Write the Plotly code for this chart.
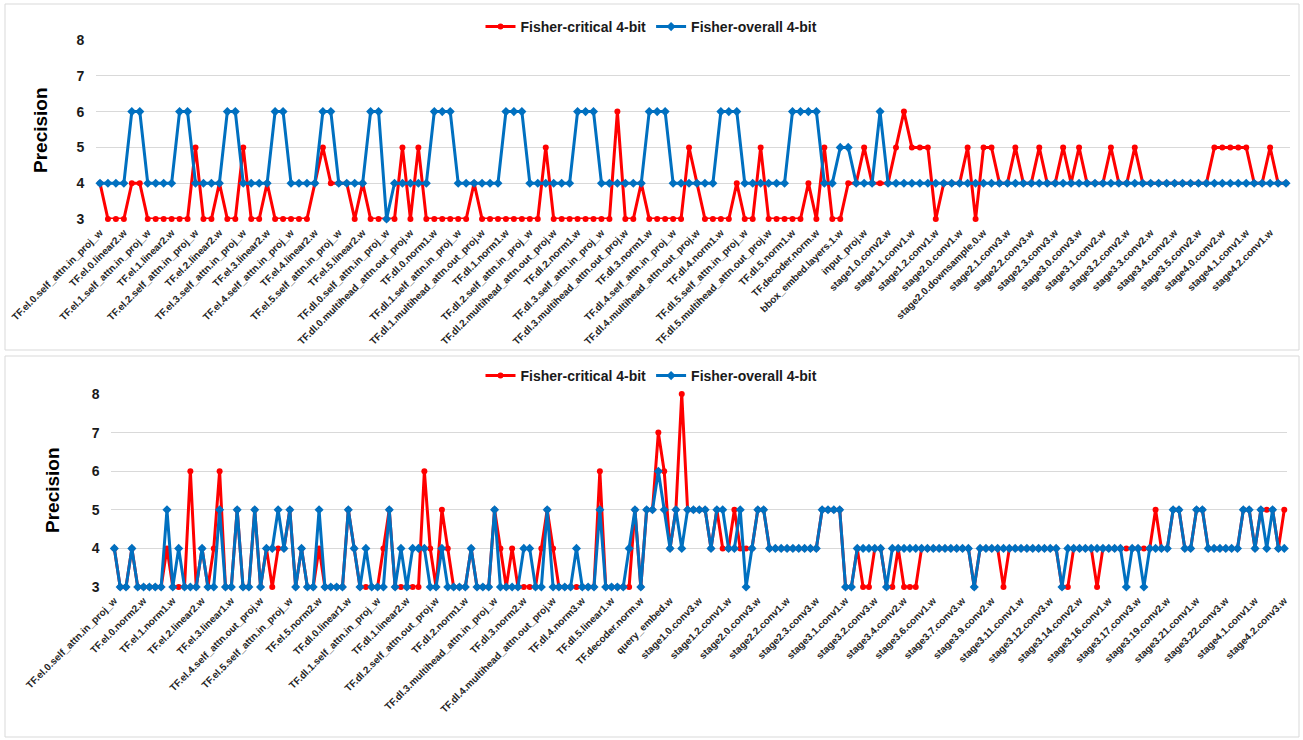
import plotly.graph_objects as go

# ---------------- category names ----------------
def enc_names():
    out = []
    for l in range(6):
        for p in ["self_attn.in_proj_w", "self_attn.out_proj.w", "linear1.w", "linear2.w", "norm1.w", "norm2.w"]:
            out.append(f"TF.el.{l}.{p}")
    return out

def dec_names():
    out = []
    for l in range(6):
        for p in ["self_attn.in_proj_w", "self_attn.out_proj.w", "multihead_attn.in_proj_w",
                  "multihead_attn.out_proj.w", "linear1.w", "linear2.w", "norm1.w", "norm2.w", "norm3.w"]:
            out.append(f"TF.dl.{l}.{p}")
    return out

head_names = ["TF.decoder.norm.w", "class_embed.w", "bbox_embed.layers.0.w", "bbox_embed.layers.1.w",
              "bbox_embed.layers.2.w", "query_embed.w", "input_proj.w", "conv1.w"]

def backbone(blocks):
    out = []
    for s, nb in enumerate(blocks, start=1):
        for b in range(nb):
            for c in ["conv1.w", "conv2.w", "conv3.w"]:
                out.append(f"stage{s}.{b}.{c}")
            if b == 0:
                out.append(f"stage{s}.{b}.downsample.0.w")
    return out

top_categories = enc_names() + dec_names() + head_names + backbone([3, 4, 6, 3])
bottom_categories = enc_names() + dec_names() + head_names + backbone([3, 4, 23, 3])

# ---------------- values (top panel, 150 layers) ----------------
top_critical = [
    4, 3, 3, 3, 4, 4,
    3, 3, 3, 3, 3, 3,
    5, 3, 3, 4, 3, 3,
    5, 3, 3, 4, 3, 3,
    3, 3, 3, 4, 5, 4,
    4, 4, 3, 4, 3, 3,
    3, 3, 5, 3, 5, 3, 3, 3, 3,
    3, 3, 4, 3, 3, 3, 3, 3, 3,
    3, 3, 5, 3, 3, 3, 3, 3, 3,
    3, 3, 6, 3, 3, 4, 3, 3, 3,
    3, 3, 5, 4, 3, 3, 3, 3, 4,
    3, 3, 5, 3, 3, 3, 3, 3, 4,
    3, 5, 3, 3, 4, 4, 5, 4, 4,
    4, 5, 6, 5, 5, 5, 3, 4, 4,
    4, 5, 3, 5, 5, 4, 4, 5, 4,
    4, 5, 4, 4, 5, 4, 5, 4, 4,
    4, 5, 4, 4, 5, 4, 4, 4, 4,
    4, 4, 4, 4, 4, 5, 5, 5, 5,
    5, 4, 4, 5, 4, 4,
]
top_overall = [
    4, 4, 4, 4, 6, 6,
    4, 4, 4, 4, 6, 6,
    4, 4, 4, 4, 6, 6,
    4, 4, 4, 4, 6, 6,
    4, 4, 4, 4, 6, 6,
    4, 4, 4, 4, 6, 6,
    3, 4, 4, 4, 4, 4, 6, 6, 6,
    4, 4, 4, 4, 4, 4, 6, 6, 6,
    4, 4, 4, 4, 4, 4, 6, 6, 6,
    4, 4, 4, 4, 4, 4, 6, 6, 6,
    4, 4, 4, 4, 4, 4, 6, 6, 6,
    4, 4, 4, 4, 4, 4, 6, 6, 6,
    6, 4, 4, 5, 5, 4, 4, 4, 6,
    4, 4, 4, 4, 4, 4, 4, 4, 4,
    4, 4, 4, 4, 4, 4, 4, 4, 4,
    4, 4, 4, 4, 4, 4, 4, 4, 4,
    4, 4, 4, 4, 4, 4, 4, 4, 4,
    4, 4, 4, 4, 4, 4, 4, 4, 4,
    4, 4, 4, 4, 4, 4,
]

# ---------------- values (bottom panel, 201 layers) ----------------
bottom_critical = [
    4, 3, 3, 4, 3, 3, 3, 3, 3, 4,
    3, 3, 3, 6, 3, 4, 3, 4, 6, 3,
    3, 5, 3, 3, 5, 3, 4, 3, 4, 4,
    5, 3, 4, 3, 3, 4, 3, 3, 3, 3,
    5, 4, 3, 3, 3, 3, 4, 5, 3, 3,
    3, 3, 3, 6, 4, 3, 5, 4, 3, 3,
    3, 4, 3, 3, 3, 5, 4, 3, 4, 3,
    3, 3, 3, 4, 5, 4, 3, 3, 3, 3,
    3, 3, 3, 6, 3, 3, 3, 3, 3, 5,
    3, 5, 5, 7, 6, 4, 5, 8, 5, 5,
    5, 5, 4, 5, 4, 4, 5, 4, 4, 4,
    5, 5, 4, 4, 4, 4, 4, 4, 4, 4,
    4, 5, 5, 5, 5, 3, 3, 4, 3, 3,
    4, 4, 3, 3, 4, 3, 3, 3, 4, 4,
    4, 4, 4, 4, 4, 4, 4, 3, 4, 4,
    4, 4, 3, 4, 4, 4, 4, 4, 4, 4,
    4, 4, 3, 3, 4, 4, 4, 4, 3, 4,
    4, 4, 4, 4, 4, 4, 4, 4, 5, 4,
    4, 5, 5, 4, 4, 5, 5, 4, 4, 4,
    4, 4, 4, 5, 5, 4, 5, 5, 5, 4,
    5,
]
bottom_overall = [
    4, 3, 3, 4, 3, 3, 3, 3, 3, 5,
    3, 4, 3, 3, 3, 4, 3, 3, 5, 3,
    3, 5, 3, 3, 5, 3, 4, 4, 5, 4,
    5, 3, 4, 3, 3, 5, 3, 3, 3, 3,
    5, 4, 3, 4, 3, 3, 3, 5, 3, 4,
    3, 4, 4, 4, 3, 3, 4, 3, 3, 3,
    3, 4, 3, 3, 3, 5, 3, 3, 3, 3,
    4, 4, 3, 3, 5, 3, 3, 3, 3, 4,
    3, 3, 3, 5, 3, 3, 3, 3, 4, 5,
    3, 5, 5, 6, 5, 4, 5, 4, 5, 5,
    5, 5, 4, 5, 5, 4, 4, 5, 3, 4,
    5, 5, 4, 4, 4, 4, 4, 4, 4, 4,
    4, 5, 5, 5, 5, 3, 3, 4, 4, 4,
    4, 4, 3, 4, 4, 4, 4, 4, 4, 4,
    4, 4, 4, 4, 4, 4, 4, 3, 4, 4,
    4, 4, 4, 4, 4, 4, 4, 4, 4, 4,
    4, 4, 3, 4, 4, 4, 4, 4, 4, 4,
    4, 4, 4, 3, 4, 4, 3, 4, 4, 4,
    4, 5, 5, 4, 4, 5, 5, 4, 4, 4,
    4, 4, 4, 5, 5, 4, 5, 4, 5, 4,
    4,
]

top_ticks = top_categories[::3]
bottom_ticks = bottom_categories[::5]

series_names = ["Fisher-critical 4-bit", "Fisher-overall 4-bit"]
RED = "#FF0000"
BLUE = "#0070C0"
FONT = "Liberation Sans"
W, H = 1303, 740

fig = go.Figure()

def add_pair(cats, crit, over, xa, ya, leg):
    fig.add_trace(go.Scatter(x=cats, y=crit, name=series_names[0], mode="lines+markers",
                             line=dict(color=RED, width=3), marker=dict(color=RED, size=6, symbol="circle"),
                             xaxis=xa, yaxis=ya, legend=leg, cliponaxis=False))
    fig.add_trace(go.Scatter(x=cats, y=over, name=series_names[1], mode="lines+markers",
                             line=dict(color=BLUE, width=3), marker=dict(color=BLUE, size=7, symbol="diamond"),
                             xaxis=xa, yaxis=ya, legend=leg, cliponaxis=False))

add_pair(top_categories, top_critical, top_overall, "x", "y", "legend")
add_pair(bottom_categories, bottom_critical, bottom_overall, "x2", "y2", "legend2")

def xaxis(domain, cats, ticks, anchor):
    return dict(domain=domain, anchor=anchor, type="category", categoryorder="array", categoryarray=cats,
                range=[-0.5, len(cats) - 0.5], tickmode="array", tickvals=ticks, ticktext=ticks,
                tickangle=-45, tickfont=dict(family=FONT, size=10, color="#262626", weight="bold"),
                showgrid=False, zeroline=False, showline=False, ticks="outside", ticklen=3,
                tickcolor="rgba(0,0,0,0)", automargin=False)

def yaxis(domain, anchor):
    return dict(domain=domain, anchor=anchor, range=[3, 8], dtick=1, tick0=3,
                showgrid=True, gridcolor="#D9D9D9", gridwidth=1, zeroline=False, showline=False,
                tickfont=dict(family=FONT, size=14, color="#1A1A1A", weight="bold"),
                ticks="outside", ticklen=8, tickcolor="rgba(0,0,0,0)", automargin=False)

fig.update_layout(
    template="none",
    width=W, height=H, margin=dict(l=0, r=0, t=0, b=0, autoexpand=False),
    paper_bgcolor="white", plot_bgcolor="white",
    font=dict(family=FONT, color="#1A1A1A"),
    xaxis=xaxis([96 / W, 1290 / W], top_categories, top_ticks, "y"),
    yaxis=yaxis([1 - 219 / H, 1 - 40 / H], "x"),
    xaxis2=xaxis([111.4 / W, 1287.2 / W], bottom_categories, bottom_ticks, "y2"),
    yaxis2=yaxis([1 - 587 / H, 1 - 394 / H], "x2"),
    legend=dict(orientation="h", x=0.5, xanchor="center", y=1 - 27 / H, yanchor="middle",
                font=dict(family=FONT, size=14, color="#1A1A1A", weight="bold"),
                bgcolor="rgba(0,0,0,0)", itemwidth=30),
    legend2=dict(orientation="h", x=0.5, xanchor="center", y=1 - 376 / H, yanchor="middle",
                 font=dict(family=FONT, size=14, color="#1A1A1A", weight="bold"),
                 bgcolor="rgba(0,0,0,0)", itemwidth=30),
    showlegend=True,
)

# Panel frames
fig.add_shape(type="rect", xref="paper", yref="paper", x0=5 / W, x1=1299 / W, y0=1 - 350 / H, y1=1 - 4 / H,
              line=dict(color="#D9D9D9", width=1), layer="below")
fig.add_shape(type="rect", xref="paper", yref="paper", x0=5 / W, x1=1299 / W, y0=1 - 737 / H, y1=1 - 356 / H,
              line=dict(color="#D9D9D9", width=1), layer="below")

# Y-axis titles
for xp, yp in [(40, 130), (52, 490)]:
    fig.add_annotation(text="Precision", xref="paper", yref="paper", x=xp / W, y=1 - yp / H,
                       textangle=-90, showarrow=False, xanchor="center", yanchor="middle",
                       font=dict(family=FONT, size=19, color="#000000", weight="bold"))

fig.write_html("out.html", config={"displayModeBar": False},
               post_script="document.body.style.margin='0';document.body.style.overflow='hidden';")
